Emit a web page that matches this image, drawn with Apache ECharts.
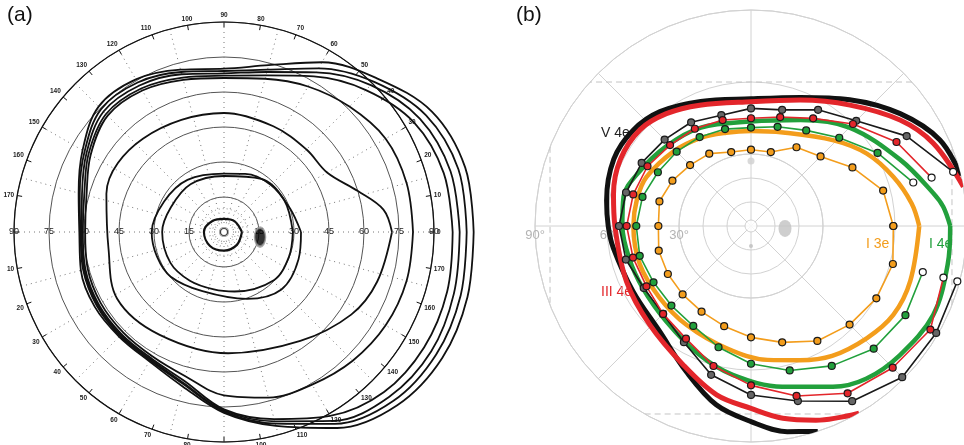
<!DOCTYPE html>
<html><head><meta charset="utf-8">
<script src="https://cdn.jsdelivr.net/npm/echarts@6/dist/echarts.min.js"></script>
<style>html,body{margin:0;padding:0;background:#fff}#c{width:964px;height:445px}</style>
</head><body><div id="c"></div>
<script>
// ================= Panel (a): Goldmann chart =================
// isopters as [angle (deg, counter-clockwise from right), eccentricity (deg)]
const aTiny  = [[0,7.7],[45,6.5],[90,5.6],[135,6.8],[180,8.6],[225,8.5],[270,8],[315,7.8],[360,7.7]];
const aInnerQ = [[0,29.5],[28,29.2],[55,27.8],[90,24],[125,25],[155,25.1],[180,26.5],[210,26.5],[235,25.5],[260,25],[280,25.9],[316,29.7],[339,29.8],[360,29.5]];
const aInnerP = [[0,33],[20,30],[45,28.5],[70,26.5],[90,25],[125,27.3],[153,28.8],[180,31],[200,30.6],[220,29.8],[250,27],[289,30.3],[315,34.8],[340,34],[360,33]];
const aMid   = [[0,72],[8,69],[17,60],[30,51],[45,50],[65,50],[90,51],[131,53],[162,53],[188,50],[212,54],[238,52],[272,52],[305,57],[327,65],[342,69],[360,72]];
const aMeridians = [0,15,30,45,60,75,90,105,120,135,150,165,180,195,210,225,240,255,270,285,300,315,330,345,360];
const aIsoE  = [81,81,80,76,72,68,66,67.5,70,70.5,66,61,59.5,60.5,61,61,61.5,64,70,73.5,75.5,78,80,81,81];
const aIso3  = [98,97.5,94,86,77,69.5,67,68.5,71,71.5,67,62,60.5,61.5,62,62,62.5,66,76,83,91,97,99,99,98];
const aIso4  = [101,100.5,97,89,79,71,68,70,72.5,73,68,63,61,62,62.5,62.5,63,67,76.5,84,93.5,100,102.5,102,101];
const aIso5  = [104,104,100,91,81,72,69,71,74,74.5,69,64,61.5,62.5,63,63,63.5,67.5,77,85,95,102.5,105,105,104];
const aIso6  = [107,107,103,93,84,74,70,72,75.5,76,70,64.5,62,63.5,64,63.5,64,68.5,77.5,86,97,105,108,108,107];
const aBlindSpot = [[352,15.6]];
const aFixation = [[0,0]];

// ================= Panel (b): isopters =================
const bMeridians = [0,15,30,45,60,75,90,105,120,135,150,165,180,195,210,225,240,255,270,285,300,315,330,345];
const bOrangeThin = [59.3,57.0,48.8,41.0,37.9,31.9,31.8,31.9,34.8,35.9,37.8,39.5,38.6,39.8,40.0,40.3,41.2,43.2,46.4,50.2,55.3,58.1,60.3,61.2];
const bOpenMeridians = [345,330,315,300,285,270,255,240,225,210,195,180,165,150,135,120,105,90,75,60,45,30,15];
const bGreenThin = [74.1,74.3,72.3,67.3,62.3,57.4,52.3,48.1,46.9,46.9,48.0,47.8,46.8,44.8,43.8,42.8,41.8,41.0,42.8,46.0,52.0,60.9,70.0];
const bRedThin   = [83.0,86.3,83.5,80.5,73.3,66.4,60.4,54.2,51.8,50.3,50.9,51.8,50.8,49.8,47.7,46.8,45.7,44.9,47.0,51.8,60.1,70.0,77.9];
const bBlackThin = [89.0,89.1,89.1,84.3,75.5,70.4,64.2,55.9,51.8,51.6,54.0,55.0,53.9,52.6,50.9,49.9,47.8,49.0,50.1,55.9,62.0,74.9,87.2];
// thick isopters: visible part inside the 90° field border
const bBlackThick = [[13.5,90],[24.5,86.5],[37,77.8],[52,66.8],[69,57.4],[90,53],[112,56],[128.5,60.9],[141,63.3],[154,63.6],[170,61.1],[180,59.5],[189,58.1],[209,56.2],[229,58.1],[246,66.4],[259,75.9],[270,81.5],[280,87],[288,90]];
const bRedThick = [[10.5,90],[24.4,83.4],[35.4,76.2],[50.7,65.1],[68.7,56.3],[90,51.8],[113,54.7],[127,58.6],[139,61.2],[153,61.1],[167,58.8],[180,56.7],[204,56.8],[224,58.9],[244,64.4],[258.5,71.8],[270,76],[279.4,81.2],[288.5,85.3],[300,90]];
const bGreenThick = [[0,83],[5.7,80.5],[10.2,77.2],[24,68],[45,58],[65,48.7],[90,43.5],[117,46],[137,48.5],[155,52],[167,54.5],[180,53.6],[195,52.5],[210,52],[228,53.1],[248,57.8],[263,62.5],[281,68.2],[297,75.2],[307,79.7],[319,82.1],[334,84.5],[349,83.5],[360,83]];
const bOrangeThick = [[0,70.1],[8,67.6],[19,62.8],[32,56.9],[46,49.6],[71,41.2],[90,39.6],[105,40.2],[120,42.3],[136,44.8],[155,48.1],[167,48.8],[180,49],[199,49],[218,48.4],[237,49.2],[259,52],[277,56.2],[290,59.5],[302,63.8],[316,67.2],[328,69.9],[341,70.2],[360,70.1]];
const bChordTop = [[41.8,90],[138.2,90]];
const bChordLeft = [[158.5,90],[201.5,90]];
const bChordBottom = [[240.5,90],[299.5,90]];
const bChordRight = [[338.5,90],[21.5,90]];
const bBlindSpot = [[356,14.2]];
const bFixation = [[0,0]];
const bDotUpper = [[90,27.1]];
const bDotLower = [[270,8.3]];
const bRadiusLabels = {30:'30°', 60:'60', 90:'90°'};

// ---------- helpers ----------
const toPolar = pairs => pairs.map(([ang, r]) => [r, ang]);
const zipPolar = (angs, rads) => angs.map((a, i) => [rads[i], a]);

const FONT = 'Liberation Sans, Arial, sans-serif';
const RED = '#e3262b', GREEN = '#22a03c', ORANGE = '#f39d1c', BLACK = '#111';

const hiddenAngle = (idx, start, extra) => Object.assign({
  polarIndex: idx, type: 'value', min: 0, max: 360, startAngle: start, clockwise: false,
  axisLine: {show: false}, axisTick: {show: false}, axisLabel: {show: false}, splitLine: {show: false}
}, extra || {});

const A_R = 210;            // pixels for 90° in panel (a)
const A_EXT = 120;          // extended range used for isopters beyond 90°
const polar = [
  {center: [224, 232], radius: A_R},   // 0 (a) main
  {center: [224, 232], radius: A_R},   // 1 (a) dotted meridians + left labels
  {center: [224, 232], radius: A_R * 15 / 90},    // 2 (a) inner dotted rings
  {center: [751, 226], radius: 216},   // 3 (b) main
  {center: [751, 226], radius: 216},   // 4 (b) labels
  {center: [751, 226], radius: 72},    // 5 (b) inner rings
  {center: [224, 232], radius: A_R * A_EXT / 90}  // 6 (a) isopters (extended)
];

const angleAxis = [
  {polarIndex: 0, type: 'value', min: 0, max: 360, interval: 10, startAngle: 0, clockwise: false,
   axisLine: {lineStyle: {color: '#111', width: 1.2}},
   axisTick: {show: true, inside: true, length: 5, lineStyle: {color: '#111', width: 1}},
   axisLabel: {fontSize: 6.5, color: '#222', margin: 3, fontWeight: 'bold',
     formatter: v => (v >= 360 || v === 180) ? '' : String(v < 180 ? v : v - 180)},
   splitLine: {show: false}},
  hiddenAngle(1, 180, {interval: 15, splitLine: {show: true, lineStyle: {color: '#777', width: 1, type: [1, 4]}}}),
  hiddenAngle(2, 0, {interval: 90}),
  {polarIndex: 3, type: 'value', min: 0, max: 360, interval: 45, startAngle: 0, clockwise: false,
   axisLine: {lineStyle: {color: '#d2d2d2', width: 1}}, axisTick: {show: false}, axisLabel: {show: false},
   splitLine: {show: true, lineStyle: {color: '#d2d2d2', width: 1}}},
  hiddenAngle(4, 180, {interval: 90}),
  hiddenAngle(5, 0, {interval: 90}),
  hiddenAngle(6, 0, {interval: 90})
];

const radiusAxis = [
  {polarIndex: 0, type: 'value', min: 0, max: 90, interval: 15,
   axisLine: {show: false}, axisTick: {show: false},
   axisLabel: {fontSize: 9, color: '#222', margin: 0, verticalAlign: 'middle', formatter: v => v === 0 ? '' : v},
   splitLine: {show: true, lineStyle: {color: '#555', width: 1}}},
  {polarIndex: 1, type: 'value', min: 0, max: 90, interval: 15,
   axisLine: {show: false}, axisTick: {show: false},
   axisLabel: {fontSize: 9, color: '#222', margin: 0, verticalAlign: 'middle', formatter: v => v === 0 ? '' : v},
   splitLine: {show: false}},
  {polarIndex: 2, type: 'value', min: 0, max: 15, interval: 5,
   axisLine: {show: false}, axisTick: {show: false}, axisLabel: {show: false},
   splitLine: {show: true, lineStyle: {color: '#888', width: 1, type: [1, 3]}}},
  {polarIndex: 3, type: 'value', min: 0, max: 90, interval: 30,
   axisLine: {show: false}, axisTick: {show: false}, axisLabel: {show: false},
   splitLine: {show: true, lineStyle: {color: '#d2d2d2', width: 1}}},
  {polarIndex: 4, type: 'value', min: 0, max: 90, interval: 30,
   axisLine: {show: false}, axisTick: {show: false},
   axisLabel: {fontSize: 13, color: '#b3b3b3', margin: 3, formatter: v => bRadiusLabels[v] || ''},
   splitLine: {show: false}},
  {polarIndex: 5, type: 'value', min: 0, max: 30, interval: 10,
   axisLine: {show: false}, axisTick: {show: false}, axisLabel: {show: false},
   splitLine: {show: true, lineStyle: {color: '#d2d2d2', width: 1}}},
  {polarIndex: 6, type: 'value', min: 0, max: A_EXT, interval: 30,
   axisLine: {show: false}, axisTick: {show: false}, axisLabel: {show: false}, splitLine: {show: false}}
];

const series = [];
// ----- panel (a) isopters -----
const aLine = (data, w) => ({type: 'line', coordinateSystem: 'polar', polarIndex: 6, data,
  smooth: 0.35, showSymbol: false, symbol: 'none', clip: false, silent: true,
  lineStyle: {color: BLACK, width: w || 1.8}});
series.push(aLine(toPolar(aTiny), 2.2));
series.push(aLine(toPolar(aInnerQ)));
series.push(aLine(toPolar(aInnerP)));
series.push(aLine(toPolar(aMid)));
series.push(aLine(zipPolar(aMeridians, aIsoE)));
series.push(aLine(zipPolar(aMeridians, aIso3)));
series.push(aLine(zipPolar(aMeridians, aIso4)));
series.push(aLine(zipPolar(aMeridians, aIso5)));
series.push(aLine(zipPolar(aMeridians, aIso6)));
series.push({type: 'scatter', coordinateSystem: 'polar', polarIndex: 6, data: toPolar(aBlindSpot),
  symbol: 'circle', symbolSize: [11, 19], itemStyle: {color: '#000', borderColor: '#999', borderWidth: 2}, silent: true});
series.push({type: 'scatter', coordinateSystem: 'polar', polarIndex: 6, data: toPolar(aFixation),
  symbol: 'circle', symbolSize: 7, itemStyle: {color: '#fff', borderColor: '#111', borderWidth: 1.2}, silent: true});

// ----- panel (b) -----
const chord = d => ({type: 'line', coordinateSystem: 'polar', polarIndex: 3, data: toPolar(d),
  symbol: 'none', clip: false, silent: true, lineStyle: {color: '#c4c4c4', width: 1, type: [6, 4]}});
[bChordTop, bChordLeft, bChordBottom, bChordRight].forEach(c => series.push(chord(c)));

series.push({type: 'scatter', coordinateSystem: 'polar', polarIndex: 3, data: toPolar(bBlindSpot),
  symbol: 'circle', symbolSize: [13, 17], itemStyle: {color: '#c2c2c2'}, silent: true});
series.push({type: 'scatter', coordinateSystem: 'polar', polarIndex: 3, data: toPolar(bDotUpper),
  symbol: 'circle', symbolSize: 7, itemStyle: {color: '#cfcfcf'}, silent: true});
series.push({type: 'scatter', coordinateSystem: 'polar', polarIndex: 3, data: toPolar(bDotLower),
  symbol: 'circle', symbolSize: 4, itemStyle: {color: '#bdbdbd'}, silent: true});
series.push({type: 'scatter', coordinateSystem: 'polar', polarIndex: 3, data: toPolar(bFixation),
  symbol: 'circle', symbolSize: 12, itemStyle: {color: '#fff', borderColor: '#c8c8c8', borderWidth: 1}, silent: true});

const thick = (data, color, w) => ({type: 'line', coordinateSystem: 'polar', polarIndex: 3, data: toPolar(data),
  smooth: 0.35, symbol: 'none', clip: false, silent: true, lineStyle: {color, width: w, cap: 'butt'}});
series.push(thick(bBlackThick, BLACK, 5));
series.push(thick(bRedThick, RED, 5));
series.push(thick(bGreenThick, GREEN, 4.5));
series.push(thick(bOrangeThick, ORANGE, 4.5));

const thin = (data, color, fill, open) => ({type: 'line', coordinateSystem: 'polar', polarIndex: 3,
  data: data.map((d, i) => (open && (i === 0 || i === data.length - 1)) ? {value: d, itemStyle: {color: '#fff'}} : d),
  symbol: 'circle', symbolSize: 7, showSymbol: true, clip: false, silent: true,
  lineStyle: {color, width: 1.6},
  itemStyle: {color: fill, borderColor: '#1a1a1a', borderWidth: 1.2}});
const orangeData = zipPolar(bMeridians, bOrangeThin); orangeData.push(orangeData[0]);
series.push(thin(zipPolar(bOpenMeridians, bBlackThin), '#1a1a1a', '#666', true));
series.push(thin(zipPolar(bOpenMeridians, bRedThin), RED, RED, true));
series.push(thin(zipPolar(bOpenMeridians, bGreenThin), GREEN, GREEN, true));
series.push(thin(orangeData, ORANGE, ORANGE, false));

const graphic = [
  {type: 'text', left: 7, top: 5, style: {text: '(a)', font: '21px ' + FONT, fill: '#111'}},
  {type: 'text', left: 516, top: 5, style: {text: '(b)', font: '21px ' + FONT, fill: '#111'}},
  {type: 'text', left: 601, top: 126, style: {text: 'V 4e', font: '14px ' + FONT, fill: '#222'}},
  {type: 'text', left: 601, top: 285, style: {text: 'III 4e', font: '14px ' + FONT, fill: RED}},
  {type: 'text', left: 866, top: 237, style: {text: 'I 3e', font: '14px ' + FONT, fill: ORANGE}},
  {type: 'text', left: 929, top: 237, style: {text: 'I 4e', font: '14px ' + FONT, fill: GREEN}}
];

const chart = echarts.init(document.getElementById('c'), null, {renderer: 'canvas'});
chart.setOption({
  animation: false,
  backgroundColor: '#fff',
  textStyle: {fontFamily: FONT},
  polar, angleAxis, radiusAxis, series, graphic
});
</script>
</body></html>
